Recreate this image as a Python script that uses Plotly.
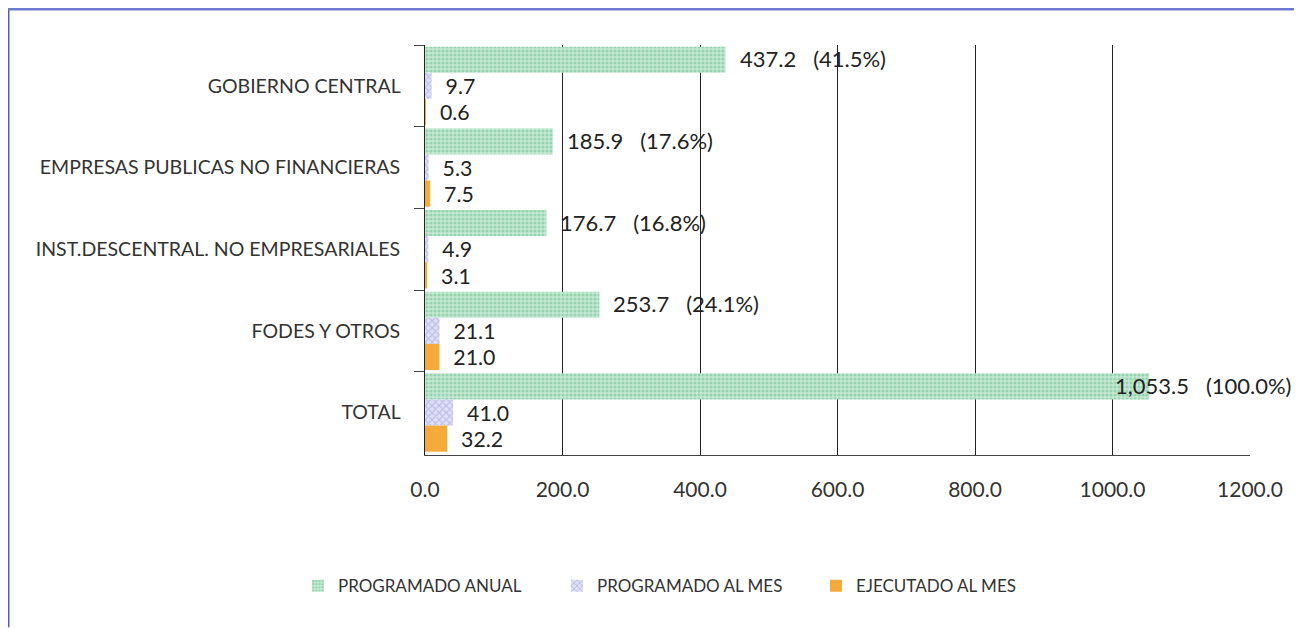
import plotly.graph_objects as go

categories = ["GOBIERNO CENTRAL", "EMPRESAS PUBLICAS NO FINANCIERAS",
              "INST.DESCENTRAL. NO EMPRESARIALES", "FODES Y OTROS", "TOTAL"]
programado_anual = [437.2, 185.9, 176.7, 253.7, 1053.5]
programado_mes = [9.7, 5.3, 4.9, 21.1, 41.0]
ejecutado_mes = [0.6, 7.5, 3.1, 21.0, 32.2]
x_ticks = [0, 200, 400, 600, 800, 1000, 1200]

total = programado_anual[-1]
anual_labels = [f"{v:,.1f}\u00a0\u00a0\u00a0({v / total * 100:.1f}%)" for v in programado_anual]

FONT = "Lato"
NB = "\u00a0\u00a0"
fig = go.Figure()
fig.add_trace(go.Bar(
    y=categories, x=programado_anual, orientation="h", name="PROGRAMADO ANUAL",
    marker=dict(color="#c4e8d2", line=dict(width=0),
                pattern=dict(shape=".", fgcolor="#6cbc8e", bgcolor="#c6e9d4", size=4, solidity=0.5)),
))
fig.add_trace(go.Bar(
    y=categories, x=programado_mes, orientation="h", name="PROGRAMADO AL MES",
    marker=dict(color="#d6d6f3", line=dict(width=0),
                pattern=dict(shape="x", fgcolor="#9c9cdc", bgcolor="#dfdff6", size=5, solidity=0.4)),
    texttemplate=NB + "%{x:.1f}", textposition="outside",
    textfont=dict(family=FONT, size=22, color="#222"), cliponaxis=False,
))
fig.add_trace(go.Bar(
    y=categories, x=ejecutado_mes, orientation="h", name="EJECUTADO AL MES",
    marker=dict(color="#f5aa3c", line=dict(width=0)),
    texttemplate=NB + "%{x:.1f}", textposition="outside",
    textfont=dict(family=FONT, size=22, color="#222"), cliponaxis=False,
))

for cat, v, lab in zip(categories, programado_anual, anual_labels):
    fig.add_annotation(
        x=v, y=cat, yref="y", xref="x", text=lab, showarrow=False,
        xanchor="left", yshift=27, xshift=(12 if v < 1000 else -36),
        font=dict(family=FONT, size=22, color="#222"),
    )

# page body has an 8px offset; figure sized/margined to compensate
fig.update_layout(
    width=1294, height=621,
    margin=dict(l=417, r=52, t=37, b=174),
    paper_bgcolor="white", plot_bgcolor="white",
    barmode="group", bargap=0.04, bargroupgap=0,
    font=dict(family=FONT, color="#333"),
    showlegend=True,
    legend=dict(orientation="h", x=-0.154, xanchor="left", y=-0.32, yanchor="middle",
                font=dict(family=FONT, size=17, color="#333"), itemwidth=30,
                traceorder="normal", entrywidth=214),
    xaxis=dict(range=[0, 1200], tickvals=x_ticks, tickformat=".1f",
               showgrid=True, gridcolor="#222", gridwidth=1,
               showline=True, linecolor="#444", linewidth=1,
               tickfont=dict(family=FONT, size=21, color="#333"),
               zeroline=False, ticks="", automargin=False, ticklabelstandoff=16),
    yaxis=dict(autorange="reversed", tickson="boundaries", ticks="outside", ticklen=10,
               tickcolor="#444", showline=True, linecolor="#222", linewidth=1,
               tickfont=dict(family=FONT, size=19.5, color="#333"), ticksuffix="    ",
               automargin=False),
)

# frame: strong left and top edges, faint right edge
fig.add_shape(type="line", xref="paper", yref="paper",
              x0=-0.5055, x1=-0.5055, y0=-0.42, y1=1.088,
              line=dict(color="#4a5cc0", width=3))
fig.add_shape(type="line", xref="paper", yref="paper",
              x0=-0.5055, x1=1.06, y0=1.088, y1=1.088,
              line=dict(color="#6a7ad0", width=3))
fig.add_shape(type="line", xref="paper", yref="paper",
              x0=1.058, x1=1.058, y0=-0.42, y1=1.088,
              line=dict(color="#e4e8f4", width=2))

fig.write_html("out.html")
